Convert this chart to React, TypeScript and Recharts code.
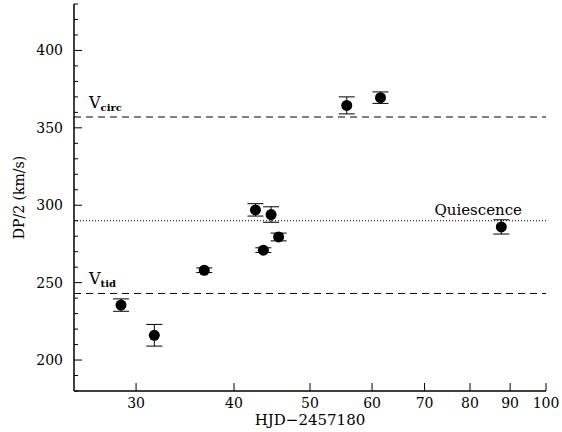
import { ScatterChart, Scatter, XAxis, YAxis, ErrorBar, ReferenceLine, Label } from "recharts"

// HJD - 2457180 (days) and DP/2 (km/s) with 1-sigma errors
const days = [28.7, 31.65, 36.65, 42.6, 43.6, 44.6, 45.6, 55.7, 61.5, 87.7]
const dpHalf = [235.5, 216, 258, 297, 271, 294, 279.5, 364.5, 369.5, 286]
const dpErr = [4, 7, 1.5, 4, 1.5, 5, 2.5, 5.5, 3.7, 4.6]

const xTicks = [30, 40, 50, 60, 70, 80, 90, 100]
const yTicks = [180, 190, 200, 210, 220, 230, 240, 250, 260, 270, 280, 290, 300, 310, 320, 330, 340, 350, 360, 370, 380, 390, 400, 410, 420, 430]

const V_CIRC = 357
const QUIESCENCE = 290
const V_TID = 243

const FONT = "'DejaVu Serif', serif"

const data = days.map((d, i) => ({ day: d, dp: dpHalf[i], err: dpErr[i] }))

// inward ticks, drawn by hand since recharts only draws them outward
function BottomTick({ x, y, payload }: any) {
  return (
    <g>
      <line x1={x} y1={y} x2={x} y2={y - 8} stroke="#000" strokeWidth={1} />
      <text x={x} y={y + 17} textAnchor="middle" fontSize={14} fontFamily={FONT} fill="#000">
        {payload.value}
      </text>
    </g>
  )
}

function TopTick({ x, y }: any) {
  return <line x1={x} y1={y} x2={x} y2={y + 8} stroke="#000" strokeWidth={1} />
}

function LeftTick({ x, y, payload }: any) {
  const major = payload.value % 50 === 0
  return (
    <g>
      <line x1={x} y1={y} x2={x + (major ? 8 : 4)} y2={y} stroke="#000" strokeWidth={1} />
      {major && (
        <text x={x - 11} y={y + 5} textAnchor="end" fontSize={14} fontFamily={FONT} fill="#000">
          {payload.value}
        </text>
      )}
    </g>
  )
}

function RightTick({ x, y, payload }: any) {
  const major = payload.value % 50 === 0
  return <line x1={x} y1={y} x2={x - (major ? 8 : 4)} y2={y} stroke="#000" strokeWidth={1} />
}

function VLabel({ viewBox, sub }: any) {
  return (
    <text x={viewBox.x + 15} y={viewBox.y - 9} fontFamily={FONT} fill="#000">
      <tspan fontSize={16}>V</tspan>
      <tspan fontSize={10} fontWeight="bold" dy={3}>{sub}</tspan>
    </text>
  )
}

function QLabel({ viewBox }: any) {
  return (
    <text x={viewBox.x + viewBox.width - 24} y={viewBox.y - 6} textAnchor="end" fontSize={15} fontFamily={FONT} fill="#000">
      Quiescence
    </text>
  )
}

const dot = (props: any) => <circle cx={props.cx} cy={props.cy} r={5.5} fill="#000" />

export default function App() {
  return (
    <div style={{ position: "absolute", left: 0, top: 0, background: "#fff" }}>
      <ScatterChart width={562} height={432} margin={{ top: 4, right: 16, bottom: 0, left: 0 }}>
        <XAxis
          dataKey="day"
          type="number"
          scale="log"
          domain={[25, 100]}
          ticks={xTicks}
          interval={0}
          allowDataOverflow
          height={41}
          tickSize={0}
          tickMargin={0}
          tick={<BottomTick />}
          axisLine={{ stroke: "#000", strokeWidth: 1.5 }}
        >
          <Label value="HJD−2457180" position="insideBottom" offset={7} fontSize={15} fontFamily={FONT} fill="#000" />
        </XAxis>
        <XAxis
          xAxisId="top"
          orientation="top"
          type="number"
          scale="log"
          domain={[25, 100]}
          ticks={xTicks}
          interval={0}
          allowDataOverflow
          height={0}
          tickSize={0}
          tickMargin={0}
          tick={<TopTick />}
          axisLine={{ stroke: "#000", strokeWidth: 1.5 }}
        />
        <YAxis
          dataKey="dp"
          type="number"
          domain={[180, 430]}
          ticks={yTicks}
          interval={0}
          allowDataOverflow
          width={74}
          tickSize={0}
          tickMargin={0}
          tick={<LeftTick />}
          axisLine={{ stroke: "#000", strokeWidth: 1.5 }}
        >
          <Label
            value="DP/2 (km/s)"
            position="insideLeft"
            angle={-90}
            offset={19}
            fontSize={14}
            fontFamily={FONT}
            fill="#000"
            style={{ textAnchor: "middle" }}
          />
        </YAxis>
        <YAxis
          yAxisId="right"
          orientation="right"
          type="number"
          domain={[180, 430]}
          ticks={yTicks}
          interval={0}
          allowDataOverflow
          width={0}
          tickSize={0}
          tickMargin={0}
          tick={<RightTick />}
          axisLine={{ stroke: "#000", strokeWidth: 1.5 }}
        />
        <ReferenceLine y={V_CIRC} stroke="#000" strokeWidth={1} strokeDasharray="7 5" label={<VLabel sub="circ" />} />
        <ReferenceLine y={QUIESCENCE} stroke="#000" strokeWidth={1} strokeDasharray="1 2" label={<QLabel />} />
        <ReferenceLine y={V_TID} stroke="#000" strokeWidth={1} strokeDasharray="7 5" label={<VLabel sub="tid" />} />
        <Scatter data={data} shape={dot} isAnimationActive={false}>
          <ErrorBar dataKey="err" direction="y" width={8} stroke="#000" strokeWidth={1} isAnimationActive={false} />
        </Scatter>
      </ScatterChart>
    </div>
  )
}
